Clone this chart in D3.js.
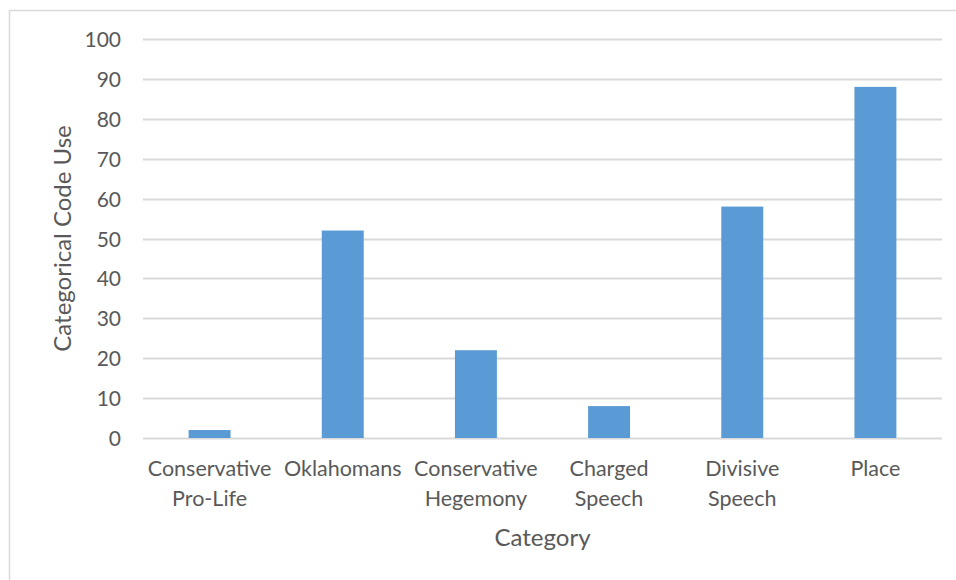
<!DOCTYPE html>
<html><head><meta charset="utf-8">
<script src="https://cdn.jsdelivr.net/npm/d3@7"></script>
<style>body{margin:0;background:#fff;} svg{display:block;} text{font-family:Lato,"Open Sans",sans-serif;fill:#595959;}</style>
</head><body>
<svg id="c" width="956" height="580"></svg>
<script>
const categories = [["Conservative","Pro-Life"],["Oklahomans"],["Conservative","Hegemony"],["Charged","Speech"],["Divisive","Speech"],["Place"]];
const values = [2,52,22,8,58,88];
const yTicks = [0,10,20,30,40,50,60,70,80,90,100];
const yTitle = "Categorical Code Use";
const xTitle = "Category";

const svg = d3.select("#c");
svg.append("rect").attr("x",9.5).attr("y",10.5).attr("width",960).attr("height",600)
  .attr("fill","#fff").attr("stroke","#d9d9d9").attr("stroke-width",1.5);

const m = {l:143, r:942, t:39, b:438};
const x = d3.scaleBand().domain(d3.range(categories.length)).range([m.l,m.r]).paddingInner(0.685).paddingOuter(0.3425);
const y = d3.scaleLinear().domain([0,100]).range([m.b,m.t]);

const g = svg.append("g");
g.selectAll("line.grid").data(yTicks).join("line").attr("class","grid")
  .attr("x1",m.l).attr("x2",m.r).attr("y1",d=>Math.round(y(d))+0.5).attr("y2",d=>Math.round(y(d))+0.5)
  .attr("stroke","#d9d9d9").attr("stroke-width",2);

g.selectAll("rect.bar").data(values).join("rect").attr("class","bar")
  .attr("x",(d,i)=>x(i)).attr("width",x.bandwidth())
  .attr("y",d=>y(d)).attr("height",d=>y(0)-y(d)).attr("fill","#5b9bd5");

const yAxis = d3.axisLeft(y).tickValues(yTicks).tickSize(0).tickPadding(0);
const ya = svg.append("g").attr("transform",`translate(${m.l-22},0)`).call(yAxis);
ya.select(".domain").remove();
ya.selectAll("text").attr("font-size",21).style("font-family","Lato,'Open Sans',sans-serif").attr("fill","#595959").attr("dy","0.36em");

const xAxis = d3.axisBottom(x).tickSize(0).tickFormat(()=>"");
const xa = svg.append("g").attr("transform",`translate(0,${m.b})`).call(xAxis);
xa.select(".domain").remove();
xa.selectAll(".tick").each(function(d){
  const t = d3.select(this).append("text").attr("text-anchor","middle").attr("font-size",21.5).attr("fill","#595959");
  categories[d].forEach((line,k)=>{
    t.append("tspan").attr("x",0).attr("y",38+k*30).text(line);
  });
});

svg.append("text").attr("transform",`translate(71,${(m.t+m.b)/2}) rotate(-90)`)
  .attr("text-anchor","middle").attr("font-size",24).text(yTitle);
svg.append("text").attr("x",(m.l+m.r)/2).attr("y",546).attr("text-anchor","middle").attr("font-size",24).text(xTitle);
</script>
</body></html>
